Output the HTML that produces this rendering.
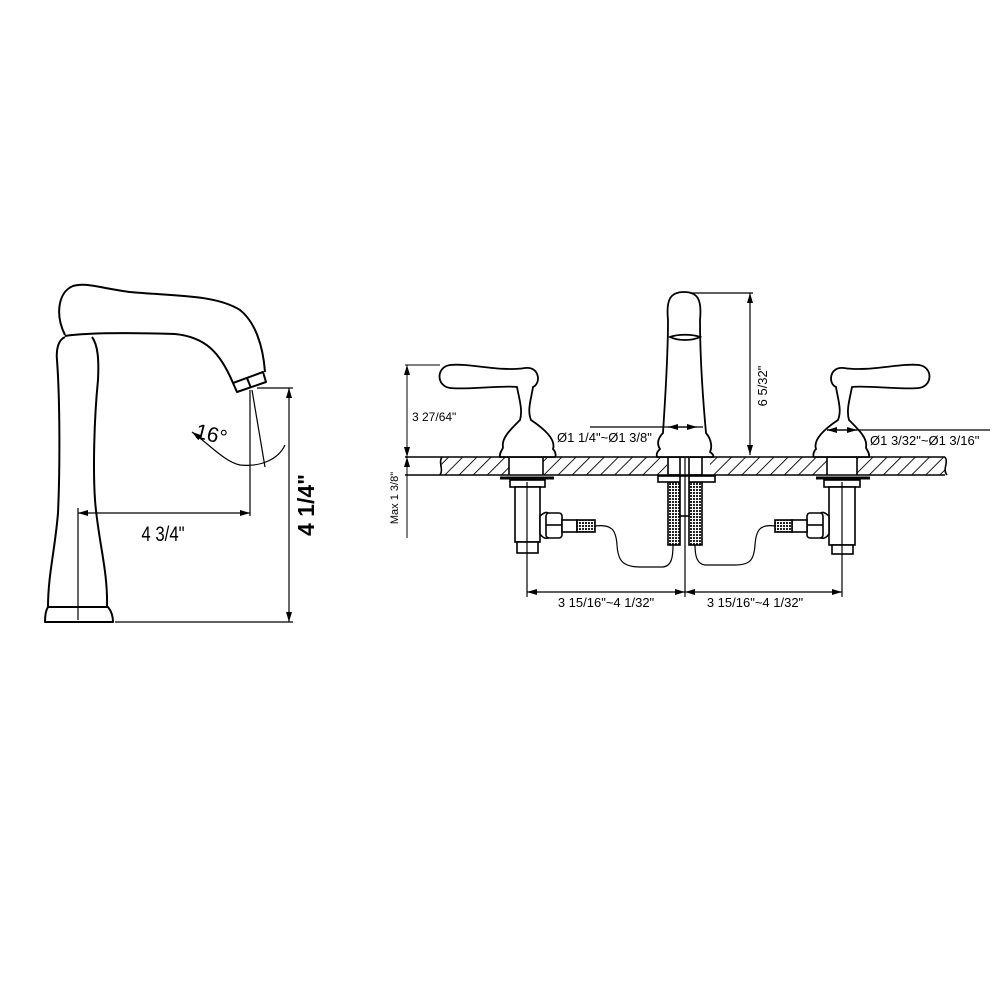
<!DOCTYPE html>
<html><head><meta charset="utf-8"><style>
html,body{margin:0;padding:0;background:#fff}
svg{display:block}
text{font-family:"Liberation Sans",sans-serif;fill:#000}
</style></head><body>
<svg width="1000" height="1000" viewBox="0 0 1000 1000" xmlns="http://www.w3.org/2000/svg">
<defs>
<pattern id="h" width="10" height="10" patternUnits="userSpaceOnUse" patternTransform="rotate(45)">
<line x1="0" y1="0" x2="0" y2="10" stroke="#000" stroke-width="1.8"/>
</pattern>
<pattern id="k" width="3" height="3" patternUnits="userSpaceOnUse">
<rect width="3" height="3" fill="#fff"/><rect width="2" height="2" fill="#222"/>
</pattern>
<marker id="a" viewBox="0 0 10 6" refX="10" refY="3" markerWidth="10" markerHeight="6" orient="auto-start-reverse" markerUnits="userSpaceOnUse">
<path d="M0,0 L10,3 L0,6 Z" fill="#000"/></marker>
<path id="hd" d="M517,387 C505,385 465,390 450,388 C436,386 436,367 450,365 C470,363 500,372 525,368 C540,366 541,384 533,387 C531,400 527,410 531,420 C546,430 556,440 553,449 C556,452 556,456 555,457 L500,457 C499,452 503,450 503,447 C501,438 512,428 520,420 C523,410 519,398 517,387 Z"/>
</defs>
<g fill="none" stroke="#000" stroke-width="2" stroke-linejoin="round">
<path d="M65,335 C55,315 58,292 73,286 C85,282 100,288 130,292 C170,296 215,294 240,310 C255,322 263,345 265,372"/>
<path d="M65,336 C90,332 140,333 175,334 C205,337 220,352 233,383"/>
<path d="M233,383 L263,372 L266,382 L237,392 Z"/>
<line x1="247" y1="378" x2="251" y2="388"/>
<path d="M65,337 C58,340 56,350 57,360 C60,400 60,470 58,513 C55,550 48,575 48,607"/>
<path d="M92,337 C98,345 99,360 98,380 C94,420 93,470 95,500 C98,540 108,570 107,607"/>
<path d="M48,607 L108,607 C112,612 113,618 113,622 L45,622 C45,615 46,610 48,607 Z"/>
</g>
<g fill="none" stroke="#000" stroke-width="1.2">
<line x1="78" y1="508" x2="78" y2="620"/>
<line x1="78" y1="513" x2="250" y2="513" marker-start="url(#a)" marker-end="url(#a)"/>
<line x1="250" y1="390" x2="250" y2="516"/>
<line x1="252" y1="390" x2="265" y2="467"/>
<path d="M192,432 C210,445 225,462 240,465 C260,467 278,460 285,445" marker-start="url(#a)"/>
<line x1="257" y1="388" x2="293" y2="388"/>
<line x1="115" y1="622" x2="293" y2="622"/>
<line x1="289" y1="388" x2="289" y2="622" marker-start="url(#a)" marker-end="url(#a)"/>
</g>
<text x="196" y="441" font-size="21" transform="rotate(14 210 432)">16°</text>
<text x="163" y="541" font-size="21" text-anchor="middle" transform="scale(0.8 1) translate(40.75 0)">4 3/4"</text>
<text transform="translate(314,505) rotate(-90)" font-size="23" font-weight="bold" text-anchor="middle">4 1/4"</text>

<rect x="440" y="457" width="505" height="18" fill="url(#h)"/>
<g fill="#fff"><rect x="509" y="456" width="34" height="20"/><rect x="667" y="456" width="43" height="20"/><rect x="827" y="456" width="30" height="20"/></g>
<g fill="none" stroke="#000" stroke-width="1.6">
<line x1="405" y1="457" x2="945" y2="457"/>
<line x1="405" y1="475" x2="945" y2="475"/>
<path d="M442,457 C438,463 444,469 440,475"/>
<path d="M945,457 C949,463 942,469 947,475"/>
<line x1="509" y1="457" x2="509" y2="475"/><line x1="543" y1="457" x2="543" y2="475"/>
<line x1="827" y1="457" x2="827" y2="475"/><line x1="857" y1="457" x2="857" y2="475"/>
<rect x="668" y="457" width="12" height="18"/><rect x="689" y="457" width="13" height="18"/>
</g>
<g fill="none" stroke="#000" stroke-width="1">
<line x1="405" y1="365" x2="440" y2="365"/>
<line x1="407" y1="365" x2="407" y2="457" marker-start="url(#a)" marker-end="url(#a)"/>
<line x1="407" y1="457" x2="407" y2="538" marker-start="url(#a)"/>
</g>
<text x="412" y="421" font-size="12">3 27/64"</text>
<text transform="translate(398,498) rotate(-90)" font-size="11" text-anchor="middle">Max 1 3/8"</text>
<g fill="#fff" stroke="#000" stroke-width="1.8">
<use href="#hd"/>
<use href="#hd" transform="translate(1369,0) scale(-1,1)"/>
<path d="M663,433 C665,400 668,360 668,320 C666,300 670,292 684,292 C698,292 702,300 700,320 C700,360 703,400 706,433 C712,440 712,448 710,452 C713,454 714,456 713,457 L657,457 C656,453 658,451 660,449 C656,443 659,437 663,433 Z"/>
<path d="M670,337 C678,334 692,334 700,337 C692,341 678,341 670,337 Z"/>
</g>
<g fill="#fff" stroke="#000" stroke-width="1.6">
<rect x="668" y="482" width="12" height="63" fill="url(#k)"/>
<rect x="689" y="482" width="13" height="63" fill="url(#k)"/>
<rect x="658" y="476" width="57" height="6"/>
<rect x="680" y="476" width="9" height="40"/>
<line x1="500" y1="478" x2="554" y2="478" stroke-width="3"/>
<rect x="510" y="480" width="35" height="7"/>
<rect x="515" y="487" width="25" height="55"/>
<rect x="517" y="542" width="21" height="11"/>
<path d="M540,516 C545,512 546,512 548,513 L548,538 C545,539 542,537 540,534 Z"/>
<rect x="546" y="513" width="16" height="25" rx="3"/>
<line x1="546" y1="525" x2="562" y2="525"/>
<rect x="562" y="520" width="15" height="12"/>
<rect x="577" y="520" width="18" height="12" fill="url(#k)"/>
<line x1="816" y1="478" x2="870" y2="478" stroke-width="3"/>
<rect x="824" y="480" width="36" height="7"/>
<rect x="829" y="487" width="26" height="58"/>
<rect x="832" y="545" width="21" height="9"/>
<path d="M829,516 C824,512 823,512 821,513 L821,538 C824,539 827,537 829,534 Z"/>
<rect x="807" y="513" width="16" height="25" rx="3"/>
<line x1="807" y1="525" x2="823" y2="525"/>
<rect x="792" y="520" width="15" height="12"/>
<rect x="775" y="520" width="17" height="12" fill="url(#k)"/>
</g>
<g fill="none" stroke="#000" stroke-width="1.2">
<path d="M595,526 C612,524 616,530 617,545 C618,560 622,567 640,567 L663,567 C672,566 673,556 673,545"/>
<path d="M775,526 C760,524 756,530 755,545 C754,560 750,565 735,565 L705,565 C697,564 695,556 695,545"/>
<line x1="527" y1="482" x2="527" y2="597"/>
<line x1="685" y1="458" x2="685" y2="597"/>
<line x1="842" y1="482" x2="842" y2="597"/>
<line x1="527" y1="592" x2="685" y2="592" marker-start="url(#a)" marker-end="url(#a)"/>
<line x1="685" y1="592" x2="842" y2="592" marker-start="url(#a)" marker-end="url(#a)"/>
<line x1="590" y1="427" x2="703" y2="427"/>
<line x1="668" y1="427" x2="697" y2="427" marker-start="url(#a)" marker-end="url(#a)"/>
<line x1="827" y1="430" x2="990" y2="430"/>
<line x1="827" y1="430" x2="857" y2="430" marker-start="url(#a)" marker-end="url(#a)"/>
<line x1="690" y1="293" x2="753" y2="293"/>
<line x1="750" y1="293" x2="750" y2="455" marker-start="url(#a)" marker-end="url(#a)"/>
</g>
<g font-size="13">
<text x="557" y="442">Ø1 1/4"~Ø1 3/8"</text>
<text x="870" y="445">Ø1 3/32"~Ø1 3/16"</text>
<text x="606" y="607" text-anchor="middle">3 15/16"~4 1/32"</text>
<text x="755" y="607" text-anchor="middle">3 15/16"~4 1/32"</text>
<text transform="translate(767,386) rotate(-90)" text-anchor="middle">6 5/32"</text>
</g>
</svg>
</body></html>
